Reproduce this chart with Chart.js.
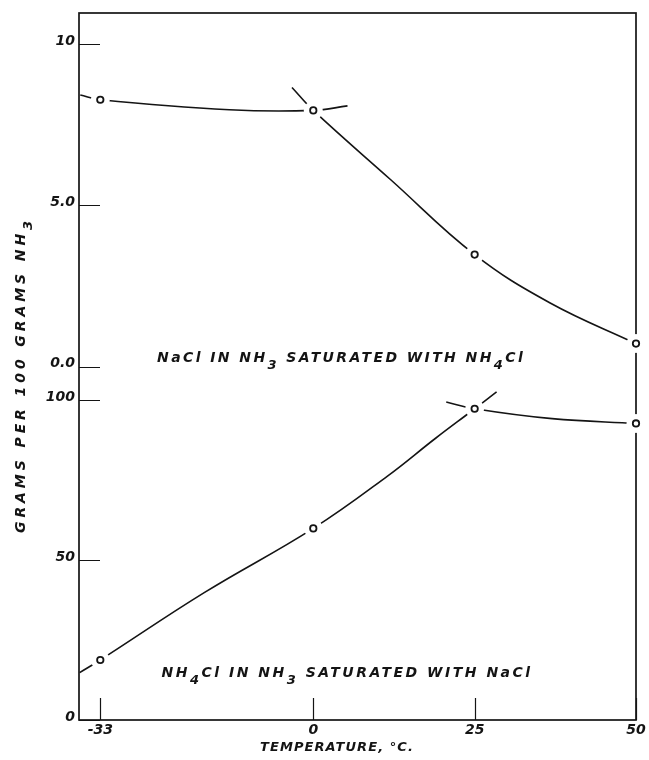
<!DOCTYPE html>
<html lang="en">
<head>
<meta charset="UTF-8" />
<title>Solubility of NaCl and NH4Cl in liquid ammonia</title>
<script src="https://cdn.jsdelivr.net/npm/chart.js"></script>
<style>
  html, body { margin: 0; padding: 0; background: #fff; }
  .wrap { position: relative; width: 649px; height: 760px; }
</style>
</head>
<body>
<div class="wrap"><canvas id="chart"></canvas></div>
<script>
// temperatures (deg C) of the measured points
const temps = [-33, 0, 25, 50];
const xTicks = [-33, 0, 25, 50];

// NaCl in NH3 saturated with NH4Cl, g / 100 g NH3 (upper panel)
const naclPoints = [8.27, 7.94, 3.47, 0.71];
// NH4Cl in NH3 saturated with NaCl, g / 100 g NH3 (lower panel)
const nh4clPoints = [18.75, 59.9, 97.3, 92.7];

// hand drawn curves (two branches per panel)
const naclCurve1X = [-36.1, -33, -13, 0, 5.3];
const naclCurve1Y = [8.42, 8.27, 7.96, 7.94, 8.08];
const naclCurve2X = [-3.3, 0, 12, 25, 36.7, 50];
const naclCurve2Y = [8.65, 7.94, 5.79, 3.47, 1.97, 0.71];
const nh4clCurve1X = [-36.2, -33, -16.9, 0, 11.5, 18.9, 25, 28.4];
const nh4clCurve1Y = [14.8, 18.75, 39.8, 59.9, 76.25, 88.0, 97.3, 102.6];
const nh4clCurve2X = [20.6, 25, 37, 50];
const nh4clCurve2Y = [99.4, 97.3, 94.2, 92.7];

const upperTicks = [0, 5, 10];
const upperTickLabels = ["0.0", "5.0", "10"];
const lowerTicks = [0, 50, 100];
const lowerTickLabels = ["0", "50", "100"];

// text pieces, [text, isSubscript]
const upperNote = [["NaCl IN NH"], ["3", 1], [" SATURATED WITH NH"], ["4", 1], ["Cl"]];
const lowerNote = [["NH"], ["4", 1], ["Cl IN NH"], ["3", 1], [" SATURATED WITH NaCl"]];
const yTitle = [["GRAMS PER 100 GRAMS NH"], ["3", 1]];
const xTitle = [["TEMPERATURE, \u00B0C."]];

const ink = "#141414";
const FAMILY = '"DejaVu Sans", sans-serif';

const pts = (xs, ys) => xs.map((x, i) => ({ x: x, y: ys[i] }));

function curve(xs, ys, axis) {
  return {
    data: pts(xs, ys), yAxisID: axis, showLine: true,
    borderColor: ink, borderWidth: 1.6, pointRadius: 0,
    tension: 0.4, clip: false, order: 3,
  };
}
// white disc under each marker so the curves stop short of the circle
function halo(ys, axis) {
  return {
    data: pts(temps, ys), yAxisID: axis, pointRadius: 9.5,
    pointBackgroundColor: "#fff", pointBorderColor: "#fff", pointBorderWidth: 0,
    clip: false, order: 2,
  };
}
function markers(ys, axis) {
  return {
    data: pts(temps, ys), yAxisID: axis, pointRadius: 3.2,
    pointBackgroundColor: "#fff", pointBorderColor: ink, pointBorderWidth: 1.8,
    clip: false, order: 1,
  };
}

// draws text with subscripts; returns width. spread = extra px between letters
function drawParts(ctx, parts, x, y, size, spread, measureOnly) {
  let cx = x;
  ctx.letterSpacing = spread + "px";
  for (const [text, sub] of parts) {
    ctx.font = "italic bold " + (sub ? size - 1 : size) + "px " + FAMILY;
    if (!measureOnly) ctx.fillText(text, cx, sub ? y + size * 0.5 : y);
    cx += ctx.measureText(text).width;
  }
  return cx - x;
}
function fitParts(ctx, parts, x, y, size, width, centre) {
  const n = parts.reduce((s, p) => s + p[0].length, 0);
  const natural = drawParts(ctx, parts, 0, 0, size, 0, true);
  const spread = (width - natural) / n;
  drawParts(ctx, parts, centre ? x - width / 2 : x, y, size, spread, false);
}

const figureInk = {
  id: "figureInk",
  beforeDatasetsDraw(chart) {
    const { ctx, chartArea: a, scales } = chart;
    ctx.save();
    ctx.strokeStyle = ink;
    ctx.lineWidth = 1.7;
    ctx.strokeRect(a.left, a.top, a.right - a.left, a.bottom - a.top);
    // short tick marks pointing into the plot
    ctx.lineWidth = 1.2;
    ctx.beginPath();
    for (const id of ["yUpper", "yLower"]) {
      const s = scales[id];
      s.ticks.forEach((t) => {
        const y = Math.round(s.getPixelForValue(t.value)) + 0.5;
        ctx.moveTo(a.left, y);
        ctx.lineTo(a.left + 21, y);
      });
    }
    scales.x.ticks.forEach((t) => {
      const x = Math.round(scales.x.getPixelForValue(t.value)) + 0.5;
      ctx.moveTo(x, a.bottom);
      ctx.lineTo(x, a.bottom - 22);
    });
    ctx.stroke();
    ctx.restore();
  },
  afterDraw(chart) {
    const { ctx, scales } = chart;
    ctx.save();
    ctx.fillStyle = ink;
    ctx.textBaseline = "alphabetic";
    ctx.textAlign = "left";
    fitParts(ctx, upperNote, scales.x.getPixelForValue(-24.2),
      scales.yUpper.getPixelForValue(0.15), 14, 368, false);
    fitParts(ctx, lowerNote, scales.x.getPixelForValue(-23.5),
      scales.yLower.getPixelForValue(13.3), 14, 371, false);
    fitParts(ctx, xTitle, 337, 751, 13, 154, true);
    ctx.translate(25, 375);
    ctx.rotate(-Math.PI / 2);
    fitParts(ctx, yTitle, 0, 0, 14, 316, true);
    ctx.restore();
  },
};

const tickFont = { family: FAMILY, size: 14, style: "italic", weight: "bold" };

new Chart(document.getElementById("chart"), {
  type: "scatter",
  data: {
    datasets: [
      curve(naclCurve1X, naclCurve1Y, "yUpper"),
      curve(naclCurve2X, naclCurve2Y, "yUpper"),
      curve(nh4clCurve1X, nh4clCurve1Y, "yLower"),
      curve(nh4clCurve2X, nh4clCurve2Y, "yLower"),
      halo(naclPoints, "yUpper"),
      halo(nh4clPoints, "yLower"),
      markers(naclPoints, "yUpper"),
      markers(nh4clPoints, "yLower"),
    ],
  },
  options: {
    responsive: true,
    maintainAspectRatio: false,
    animation: false,
    layout: { padding: { top: 13, right: 13, left: 0, bottom: 0 } },
    plugins: { legend: { display: false }, tooltip: { enabled: false } },
    scales: {
      x: {
        type: "linear", min: -36.3, max: 50,
        afterBuildTicks: (s) => { s.ticks = xTicks.map((v) => ({ value: v })); },
        afterFit: (s) => { s.height = 40; },
        grid: { display: false, drawTicks: false },
        border: { display: false },
        ticks: { color: ink, font: tickFont, padding: 2, callback: (v) => String(v) },
      },
      yLower: {
        type: "linear", position: "left", stack: "grams", stackWeight: 337,
        min: 0, max: 105.2,
        afterBuildTicks: (s) => { s.ticks = lowerTicks.map((v) => ({ value: v })); },
        afterFit: (s) => { s.width = 79; },
        grid: { display: false, drawTicks: false },
        border: { display: false },
        ticks: {
          color: ink, font: tickFont, padding: 4, labelOffset: -3,
          callback: (v) => lowerTickLabels[lowerTicks.indexOf(v)],
        },
      },
      yUpper: {
        type: "linear", position: "left", stack: "grams", stackWeight: 371,
        min: -0.526, max: 10.96,
        afterBuildTicks: (s) => { s.ticks = upperTicks.map((v) => ({ value: v })); },
        afterFit: (s) => { s.width = 79; },
        grid: { display: false, drawTicks: false },
        border: { display: false },
        ticks: {
          color: ink, font: tickFont, padding: 4, labelOffset: -3,
          callback: (v) => upperTickLabels[upperTicks.indexOf(v)],
        },
      },
    },
  },
  plugins: [figureInk],
});
</script>
</body>
</html>
